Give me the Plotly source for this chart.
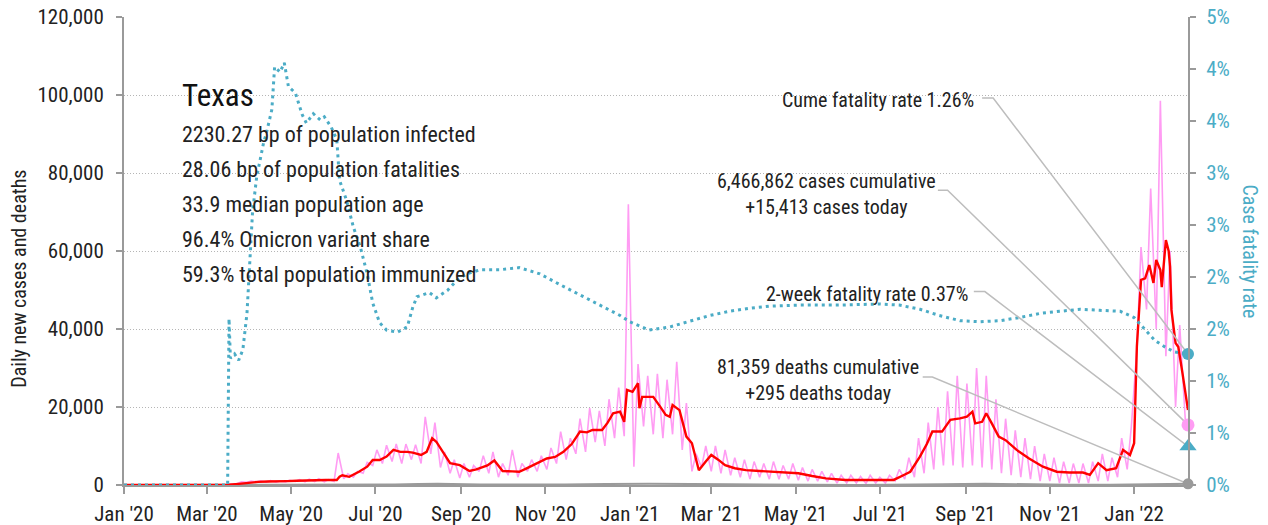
import plotly.graph_objects as go
import pandas as pd

# ---------------- data ----------------
# cumulative case fatality rate (%), right axis
cfr_dates = ["2020-01-01","2020-01-15","2020-02-01","2020-02-15","2020-03-01","2020-03-16","2020-03-17","2020-03-18",
    "2020-03-21","2020-03-24","2020-03-27","2020-03-30","2020-04-03","2020-04-06","2020-04-11","2020-04-13","2020-04-17",
    "2020-04-18","2020-04-19","2020-04-23","2020-04-26","2020-04-29","2020-05-04","2020-05-09","2020-05-12","2020-05-17",
    "2020-05-22","2020-05-25","2020-05-30","2020-06-03","2020-06-05","2020-06-10","2020-06-15","2020-06-20","2020-06-25",
    "2020-06-29","2020-07-04","2020-07-09","2020-07-17","2020-07-24","2020-07-28","2020-07-31","2020-08-09","2020-08-14",
    "2020-08-22","2020-08-29","2020-09-05","2020-09-15","2020-09-29","2020-10-13","2020-10-28","2020-11-11","2020-11-26",
    "2020-12-10","2020-12-25","2021-01-01","2021-01-15","2021-01-30","2021-02-13","2021-02-28","2021-03-14","2021-03-29",
    "2021-04-12","2021-05-03","2021-06-01","2021-07-01","2021-07-15","2021-07-30","2021-08-13","2021-08-28","2021-09-11",
    "2021-09-26","2021-10-10","2021-10-25","2021-11-08","2021-11-23","2021-12-07","2021-12-22","2022-01-01","2022-01-09",
    "2022-01-16","2022-01-23","2022-01-30","2022-02-09"]
cfr_values = [0,0,0,0,0,0,1.60,1.22,
    1.26,1.20,1.30,1.65,2.62,2.96,3.29,3.38,3.61,
    3.86,4.02,3.97,4.06,3.83,3.77,3.56,3.48,3.57,
    3.51,3.54,3.44,3.32,2.93,2.74,2.48,2.29,2.03,
    1.75,1.56,1.49,1.47,1.52,1.71,1.81,1.85,1.80,
    1.87,1.97,2.03,2.07,2.07,2.09,2.03,1.93,1.83,
    1.73,1.63,1.57,1.49,1.52,1.57,1.63,1.67,1.70,
    1.72,1.73,1.73,1.74,1.73,1.69,1.63,1.58,1.57,
    1.58,1.61,1.65,1.67,1.69,1.68,1.67,1.61,1.49,
    1.39,1.33,1.28,1.26]

# 7-day average of new cases
avg_dates = ["2020-01-01","2020-03-16","2020-03-17","2020-03-24","2020-03-31","2020-04-07","2020-04-14","2020-04-21","2020-04-28",
    "2020-05-05","2020-05-12","2020-05-19","2020-05-26","2020-06-03","2020-06-05","2020-06-07","2020-06-12","2020-06-19",
    "2020-06-25","2020-06-29","2020-07-04","2020-07-09","2020-07-14","2020-07-19","2020-07-24","2020-07-28","2020-08-03",
    "2020-08-07","2020-08-11","2020-08-14","2020-08-19","2020-08-24","2020-08-31","2020-09-07","2020-09-12","2020-09-17",
    "2020-09-20","2020-09-25","2020-10-01","2020-10-08","2020-10-13","2020-10-18","2020-10-23","2020-10-28","2020-11-02",
    "2020-11-08","2020-11-14","2020-11-20","2020-11-26","2020-12-01","2020-12-05","2020-12-12","2020-12-16","2020-12-20",
    "2020-12-25","2020-12-28","2020-12-30","2021-01-03","2021-01-07","2021-01-08","2021-01-10","2021-01-14","2021-01-18",
    "2021-01-23","2021-01-27","2021-01-30","2021-02-01","2021-02-06","2021-02-11","2021-02-15","2021-02-20","2021-02-25",
    "2021-03-01","2021-03-06","2021-03-11","2021-03-18","2021-03-26","2021-04-05","2021-04-14","2021-04-24","2021-05-03",
    "2021-05-13","2021-05-23","2021-06-06","2021-06-20","2021-07-01","2021-07-11","2021-07-13","2021-07-18","2021-07-23",
    "2021-07-30","2021-08-04","2021-08-08","2021-08-15","2021-08-21","2021-08-28","2021-09-02","2021-09-06","2021-09-08",
    "2021-09-13","2021-09-16","2021-09-20","2021-09-25","2021-09-30","2021-10-08","2021-10-17","2021-10-27","2021-11-06",
    "2021-11-15","2021-11-25","2021-11-30","2021-12-06","2021-12-12","2021-12-19","2021-12-24","2021-12-29","2022-01-01",
    "2022-01-03","2022-01-06","2022-01-09","2022-01-12","2022-01-15","2022-01-17","2022-01-20","2022-01-21","2022-01-24",
    "2022-01-26","2022-01-27","2022-01-28","2022-01-31","2022-02-02","2022-02-05","2022-02-09"]
avg_values = [0,0,50,300,600,800,900,900,1000,
    1100,1200,1200,1300,1300,2100,2500,2100,3400,
    4700,6400,6400,7300,9000,8500,8500,8300,7700,
    8500,12000,11100,8500,5600,5100,3600,4000,4700,
    5000,6300,3600,3500,3400,4200,5100,5800,6800,
    7200,8500,10500,13700,13500,14100,14100,16000,18400,
    18800,16200,24400,23900,26100,19700,22600,22600,22600,
    20100,18000,17500,20500,19200,12400,10700,3800,6000,
    7700,6500,5100,4300,3800,3600,3400,3200,3000,
    2300,1700,1300,1200,1300,1300,1700,2500,3400,
    7300,10500,13700,13700,16700,17100,17500,18800,15800,
    16200,18400,15800,12400,11500,9000,6800,4700,3400,
    3200,3200,2600,5600,3800,4300,9000,7700,10700,
    35500,52600,53000,56400,51800,57700,55100,50700,62800,
    60000,56000,44900,36400,35400,28700,19200]

# daily new cases: weekly low (Monday) and high (Thursday) readings, starting week of 2020-03-16
daily_week_start = "2020-03-16"
daily_lo = [100,400,700,800,700,700,800,900,800,900,800,
    900,1600,2000,3000,5000,5500,6000,5500,6500,5500,8000,4500,3000,1800,
    2000,3500,3000,2000,2500,2000,3500,3500,4000,5500,6500,8000,8500,11000,10000,12000,12500,
    4700,15000,13000,12000,13000,9000,3500,4500,3500,3000,2500,2000,1500,2000,1500,1500,1500,
    1200,1000,1000,800,500,500,500,400,500,500,1000,1500,2000,3000,4000,5000,5000,4500,
    5000,4500,4000,3000,2500,2000,1500,1000,1000,500,500,500,500,1000,1000,2000,4000,
    35000,45000,40000,33000,20000,17000]
daily_hi = [300,800,1000,1100,1100,1000,1200,1400,1500,1600,1400,
    8200,2900,3500,5800,9000,10200,10500,10500,10300,17500,16000,8500,6500,5500,
    5000,7500,8500,5500,9000,5500,6500,7500,9500,13700,12000,17000,19700,19000,22000,25000,72000,
    31000,28000,28500,27000,31600,21000,8000,10000,10000,9000,7000,6500,6000,5500,6000,5000,5500,
    4500,4000,3500,3000,2500,2500,2200,2500,2000,2500,4000,7000,12000,16000,20000,24000,28000,26000,
    30000,28000,22000,17000,14000,12000,10000,8000,7000,6000,5500,5500,6000,8000,7000,12000,15000,
    61000,76000,98500,60000,41000]
last_date = "2022-02-09"
cases_today = 15413

# daily deaths (grey line)
death_dates = ["2020-01-01","2020-03-16","2020-04-15","2020-05-15","2020-06-15","2020-07-15","2020-08-01","2020-08-15",
    "2020-09-15","2020-10-15","2020-11-15","2020-12-15","2021-01-15","2021-02-15","2021-03-15","2021-04-15","2021-05-15",
    "2021-06-15","2021-07-15","2021-08-15","2021-09-15","2021-10-15","2021-11-15","2021-12-15","2022-01-15","2022-02-09"]
death_values = [0,0,30,30,30,150,250,300,120,80,150,250,350,250,150,80,50,30,30,200,330,150,60,50,150,295]

cume_cfr = 1.26
twoweek_cfr = 0.37
deaths_today = 295

stat_title = "Texas"
stat_lines = ["2230.27 bp of population infected", "28.06 bp of population fatalities",
              "33.9 median population age", "96.4% Omicron variant share", "59.3% total population immunized"]

y2_tickvals = [0, 0.5, 1.0, 1.5, 2.0, 2.5, 3.0, 3.5, 4.0, 4.5]
y2_ticktext = ["0%", "1%", "1%", "2%", "2%", "3%", "3%", "4%", "4%", "5%"]

# ---------------- build ----------------
start = pd.Timestamp(daily_week_start)
d_x, d_y = [], []
for i, lo in enumerate(daily_lo):
    wk = start + pd.Timedelta(weeks=i)
    d_x.append(wk); d_y.append(lo)
    if i < len(daily_hi):
        d_x.append(wk + pd.Timedelta(days=3)); d_y.append(daily_hi[i])
d_x.append(pd.Timestamp(last_date)); d_y.append(cases_today)

FONT = "Roboto Condensed, sans-serif"
TEAL = "#4bacc6"
PINK = "#ff9cf3"
GREY = "#9a9a9a"
LEAD = "#bdbdbd"

fig = go.Figure()
fig.add_trace(go.Scatter(x=d_x, y=d_y, mode="lines", line=dict(color=PINK, width=1.6), hoverinfo="skip"))
fig.add_trace(go.Scatter(x=death_dates, y=death_values, mode="lines", line=dict(color=GREY, width=2), hoverinfo="skip"))
fig.add_trace(go.Scatter(x=avg_dates, y=avg_values, mode="lines", line=dict(color="#ff0000", width=2.4), hoverinfo="skip"))
fig.add_trace(go.Scatter(x=cfr_dates, y=cfr_values, yaxis="y2", mode="lines",
                         line=dict(color=TEAL, width=3, dash="3px,4px"), hoverinfo="skip"))

# leader lines (label anchor -> elbow -> latest data point)
fig.add_trace(go.Scatter(x=["2021-09-13", "2021-09-21", last_date], y=[3.72, 3.72, cume_cfr], yaxis="y2",
                         mode="lines", line=dict(color=LEAD, width=1.5), hoverinfo="skip"))
fig.add_trace(go.Scatter(x=["2021-08-12", "2021-08-19", last_date], y=[75600, 75600, cases_today],
                         mode="lines", line=dict(color=LEAD, width=1.5), hoverinfo="skip"))
fig.add_trace(go.Scatter(x=["2021-09-07", "2021-09-15", last_date], y=[1.86, 1.86, twoweek_cfr], yaxis="y2",
                         mode="lines", line=dict(color=LEAD, width=1.5), hoverinfo="skip"))
fig.add_trace(go.Scatter(x=["2021-08-01", "2021-08-08", last_date], y=[27700, 27700, deaths_today],
                         mode="lines", line=dict(color=LEAD, width=1.5), hoverinfo="skip"))

# end markers
fig.add_trace(go.Scatter(x=[last_date], y=[cases_today], mode="markers", cliponaxis=False,
                         marker=dict(color=PINK, size=13), hoverinfo="skip"))
fig.add_trace(go.Scatter(x=[last_date], y=[deaths_today], mode="markers", cliponaxis=False,
                         marker=dict(color=GREY, size=11), hoverinfo="skip"))
fig.add_trace(go.Scatter(x=[last_date], y=[cume_cfr], yaxis="y2", mode="markers", cliponaxis=False,
                         marker=dict(color=TEAL, size=12), hoverinfo="skip"))
fig.add_trace(go.Scatter(x=[last_date], y=[twoweek_cfr], yaxis="y2", mode="markers", cliponaxis=False,
                         marker=dict(color=TEAL, size=15, symbol="triangle-up"), hoverinfo="skip"))

ann = []
ann.append(dict(x=0.0526, y=0.833, xref="paper", yref="paper", text=stat_title, showarrow=False,
                xanchor="left", yanchor="middle", font=dict(family=FONT, size=31, color="#111")))
for i, s in enumerate(stat_lines):
    ann.append(dict(x=0.0526, y=0.750 - i * 0.0748, xref="paper", yref="paper", text=s, showarrow=False,
                    xanchor="left", yanchor="middle", font=dict(family=FONT, size=22, color="#222")))
tf = dict(family=FONT, size=20, color="#222")
ann.append(dict(x=0.801, y=0.823, xref="paper", yref="paper", text="Cume fatality rate 1.26%", showarrow=False,
                xanchor="right", yanchor="middle", font=tf))
ann.append(dict(x=0.660, y=0.622, xref="paper", yref="paper",
                text="6,466,862 cases cumulative<br>+15,413 cases today", showarrow=False,
                xanchor="center", yanchor="middle", align="center", font=tf))
ann.append(dict(x=0.795, y=0.408, xref="paper", yref="paper", text="2-week fatality rate 0.37%", showarrow=False,
                xanchor="right", yanchor="middle", font=tf))
ann.append(dict(x=0.652, y=0.2254, xref="paper", yref="paper",
                text="81,359 deaths cumulative<br>+295 deaths today", showarrow=False,
                xanchor="center", yanchor="middle", align="center", font=tf))
ann.append(dict(x=-0.0986, y=0.441, xref="paper", yref="paper", text="Daily new cases and deaths", showarrow=False,
                textangle=-90, xanchor="center", yanchor="middle", font=dict(family=FONT, size=20, color="#222")))
ann.append(dict(x=1.0583, y=0.499, xref="paper", yref="paper", text="Case fatality rate", showarrow=False,
                textangle=90, xanchor="center", yanchor="middle", font=dict(family=FONT, size=20, color=TEAL)))

# the page body adds an 8px offset, so the figure is 8px smaller on each side
fig.update_layout(
    width=1260, height=517,
    margin=dict(l=116, r=80, t=9, b=40),
    paper_bgcolor="white", plot_bgcolor="white",
    showlegend=False,
    font=dict(family=FONT, size=18, color="#222"),
    xaxis=dict(type="date", range=["2020-01-01", last_date], tick0="2020-01-01", dtick="M2",
               tickformat="%b '%y", ticks="outside", ticklen=7, tickwidth=2, tickcolor=GREY,
               showline=True, linecolor=GREY, linewidth=2, showgrid=False, zeroline=False, automargin=False,
               ticklabelstandoff=2, ticklabeloverflow="allow", tickfont=dict(family=FONT, size=21, color="#222")),
    yaxis=dict(range=[0, 120000], dtick=20000, tickformat=",", ticks="outside", ticklen=6, tickwidth=2,
               tickcolor=GREY, showline=True, linecolor=GREY, linewidth=2, showgrid=True,
               gridcolor="#b5b5b5", griddash="1px,2px", gridwidth=1, zeroline=False, automargin=False,
               ticklabelstandoff=8, ticklabeloverflow="allow", tickfont=dict(family=FONT, size=21, color="#222")),
    yaxis2=dict(overlaying="y", side="right", range=[0, 4.5], tickvals=y2_tickvals, ticktext=y2_ticktext,
                ticks="outside", ticklen=6, tickwidth=2, tickcolor=GREY, showline=True, linecolor=GREY,
                linewidth=2, showgrid=False, zeroline=False, automargin=False, ticklabelstandoff=6,
                ticklabeloverflow="allow", tickfont=dict(family=FONT, size=21, color=TEAL)),
    annotations=ann,
)

fig.write_html("out.html")
